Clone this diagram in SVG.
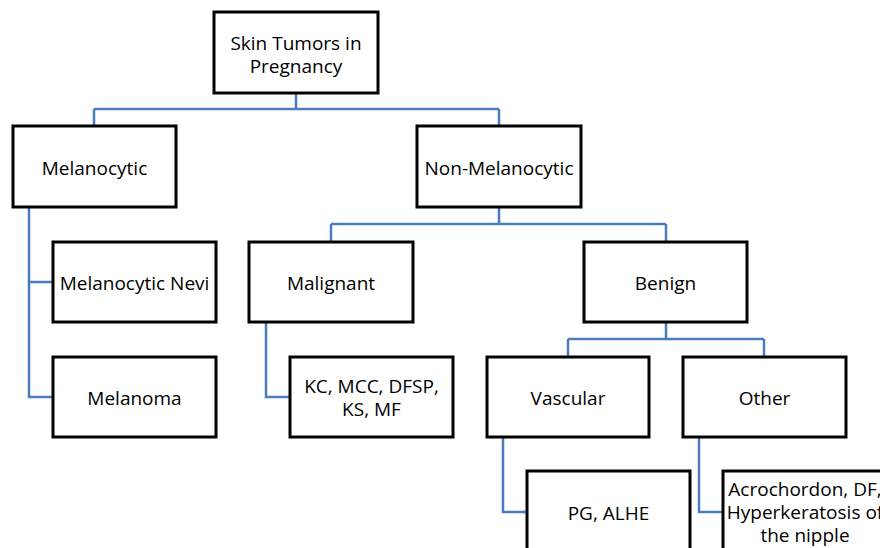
<svg xmlns="http://www.w3.org/2000/svg" width="880" height="548" viewBox="0 0 880 548">
<style>
.box{fill:#fff;stroke:#000;stroke-width:3}
.lbl{font-family:"Open Sans","Liberation Sans",sans-serif;font-size:19px;fill:#000;text-anchor:middle}
.con{fill:none;stroke:#4a7ebb;stroke-width:2.5}
</style>
<rect width="880" height="548" fill="#fff"/>
<g id="connectors">
<path class="con" d="M296,93 V109 M94,109 H499 M94,109 V126 M499,109 V126"/>
<path class="con" d="M29,207 V397 H53 M29,282 H53"/>
<path class="con" d="M499,207 V224 M331,224 H666 M331,224 V242 M666,224 V242"/>
<path class="con" d="M266,322 V397 H290"/>
<path class="con" d="M666,322 V339 M568,339 H764 M568,339 V357 M764,339 V357"/>
<path class="con" d="M503,437 V512 H527"/>
<path class="con" d="M699,437 V512 H723"/>
</g>
<g id="root"><rect class="box" x="214" y="12" width="164" height="81"/><text class="lbl" x="296" y="50">Skin Tumors in</text><text class="lbl" x="296" y="73">Pregnancy</text></g>
<g id="melanocytic"><rect class="box" x="13" y="126" width="163" height="81"/><text class="lbl" x="94.5" y="175">Melanocytic</text></g>
<g id="nonmelanocytic"><rect class="box" x="417" y="126" width="164" height="81"/><text class="lbl" x="499" y="175">Non-Melanocytic</text></g>
<g id="nevi"><rect class="box" x="53" y="242" width="163" height="80"/><text class="lbl" x="134.5" y="290">Melanocytic Nevi</text></g>
<g id="melanoma"><rect class="box" x="53" y="357" width="163" height="80"/><text class="lbl" x="134.5" y="405">Melanoma</text></g>
<g id="malignant"><rect class="box" x="249" y="242" width="164" height="80"/><text class="lbl" x="331" y="290">Malignant</text></g>
<g id="kc"><rect class="box" x="290" y="357" width="163" height="80"/><text class="lbl" x="371.5" y="393">KC, MCC, DFSP,</text><text class="lbl" x="371.5" y="416">KS, MF</text></g>
<g id="benign"><rect class="box" x="584" y="242" width="163" height="80"/><text class="lbl" x="665.5" y="290">Benign</text></g>
<g id="vascular"><rect class="box" x="487" y="357" width="162" height="80"/><text class="lbl" x="568" y="405">Vascular</text></g>
<g id="other"><rect class="box" x="683" y="357" width="163" height="80"/><text class="lbl" x="764.5" y="405">Other</text></g>
<g id="pg"><rect class="box" x="527" y="471" width="163" height="90"/><text class="lbl" x="608.5" y="520">PG, ALHE</text></g>
<g id="acro"><rect class="box" x="723" y="471" width="164" height="90"/><text class="lbl" x="805" y="496">Acrochordon, DF,</text><text class="lbl" x="805" y="519">Hyperkeratosis of</text><text class="lbl" x="805" y="542">the nipple</text></g>
</svg>
